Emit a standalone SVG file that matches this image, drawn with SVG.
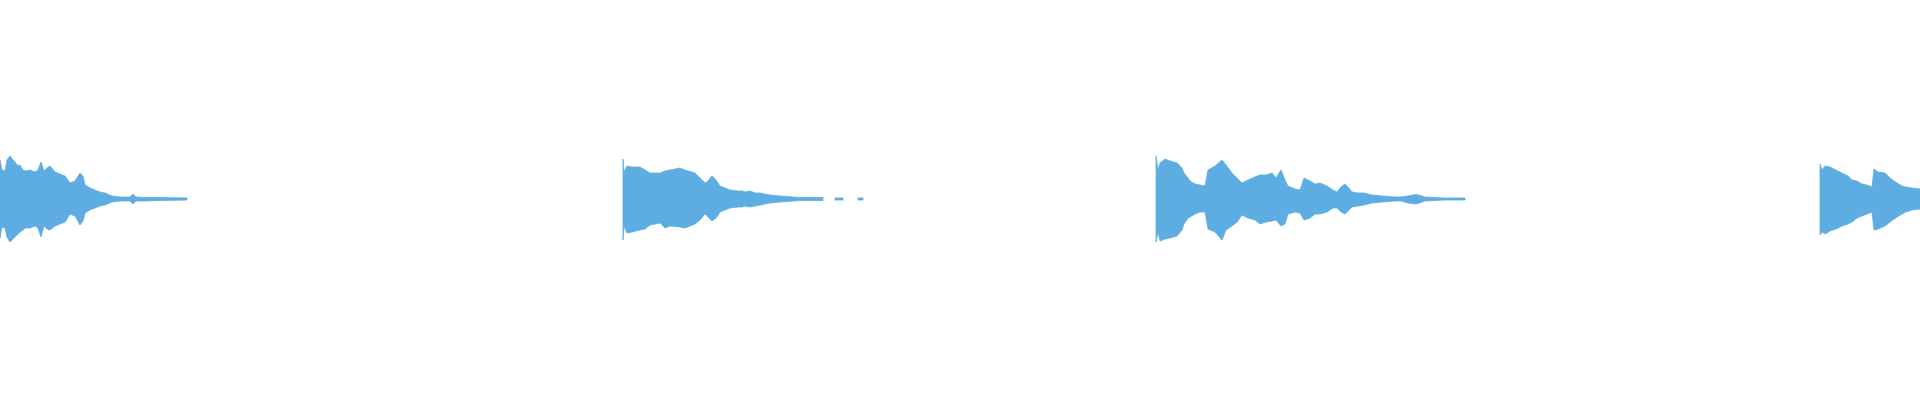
<svg xmlns="http://www.w3.org/2000/svg" width="1920" height="400" viewBox="0 0 1920 400">
<style>.w{fill:#5dade2;stroke:#5dade2;stroke-width:0.8;stroke-linejoin:miter}</style>
<rect width="1920" height="400" fill="#ffffff"/>
<g id="wave1"><path class="w" d="M0,160 L2,170 5,171 7,160 10,156 13,160 15,162 18,166 20,165 23,170 25,171 30,170 35,172 38,170 41,162 44,171 47,168 50,166 55,172 60,174 65,176 70,183 75,181 80,173 83,176 85,185 90,188 95,190 100,192 105,193 112,196 120,197 130,197 133,194 136,197 145,197.5 160,197.5 187,198 L187,200 160,200.5 145,201 136,201 133,204 130,201 120,201 112,202 105,205 100,206 95,208 90,210 85,213 83,221 80,225 75,216 70,214 65,222 60,224 55,226 50,230 47,229 44,226 41,237 38,228 35,226 30,228 25,228 23,230 20,232 18,234 15,237 13,239 10,242 7,237 5,228 2,227 0,238 Z"/></g>
<g id="wave2"><path class="w" d="M623,159 L624,172 627,166 632,167 640,167 645,170 650,173 660,173 665,171 670,170 680,168 685,170 695,173 700,178 705,183 708,181 712,176 716,180 720,186 725,188 730,190 738,191 742,191 745,192 750,191 755,193 760,193 770,195 780,196 800,197.5 823,197.5 L823,200.5 800,200.5 780,202 770,203 760,205 755,206 750,207 745,206 742,207 738,207 730,208 725,210 720,212 716,218 712,221 708,217 705,214 700,220 695,224 685,228 680,227 670,226 665,228 660,223 650,225 645,229 640,230 632,232 627,233 624,226 623,240 Z"/>
<rect class="w" x="835" y="198" width="8" height="2"/><rect class="w" x="858" y="198" width="5" height="2"/></g>
<g id="wave3"><path class="w" d="M1156,156 L1158,170 1160,163 1165,159 1170,161 1177,163 1182,168 1184,173 1188,178 1190,181 1195,184 1200,185 1205,186 1208,170 1215,166 1222,160 1226,165 1232,173 1237,178 1242,183 1248,180 1255,177 1260,175 1266,175 1272,173 1276,178 1281,170 1285,180 1288,186 1295,189 1300,190 1304,178 1310,181 1315,184 1320,183 1327,186 1333,190 1337,192 1341,187 1345,184 1349,188 1352,192 1358,193 1364,193 1372,195 1383,196 1395,197 1401,197 1408,196 1416,194.5 1422,196 1425,197 1444,198 1465,198 L1465,200 1444,200 1425,201 1422,202 1416,204 1408,203 1401,201 1395,201 1383,202 1372,203 1364,205 1358,206 1352,207 1349,210 1345,214 1341,212 1337,208 1333,208 1327,212 1320,214 1315,214 1310,218 1304,220 1300,213 1295,212 1288,214 1285,224 1281,226 1276,220 1272,221 1266,222 1260,224 1255,220 1248,218 1242,215 1237,222 1232,226 1226,230 1222,240 1215,232 1208,229 1205,212 1200,212 1195,214 1190,217 1188,218 1184,224 1182,230 1177,236 1170,238 1165,239 1160,241 1158,232 1156,242 Z"/></g>
<g id="wave4"><path class="w" d="M1820,164 L1822,170 1825,166 1830,167 1836,170 1842,173 1848,176 1852,180 1857,181 1862,184 1867,185 1872,187 1874,169 1878,172 1885,173 1890,178 1897,183 1902,186 1906,187 1912,188 1920,189 L1920,209 1912,210 1906,212 1902,214 1897,217 1890,222 1885,226 1878,229 1874,230 1872,212 1867,214 1862,216 1857,218 1852,222 1848,224 1842,226 1836,229 1830,231 1825,234 1822,232 1820,235 Z"/></g>
<g id="connectors"/>
</svg>
